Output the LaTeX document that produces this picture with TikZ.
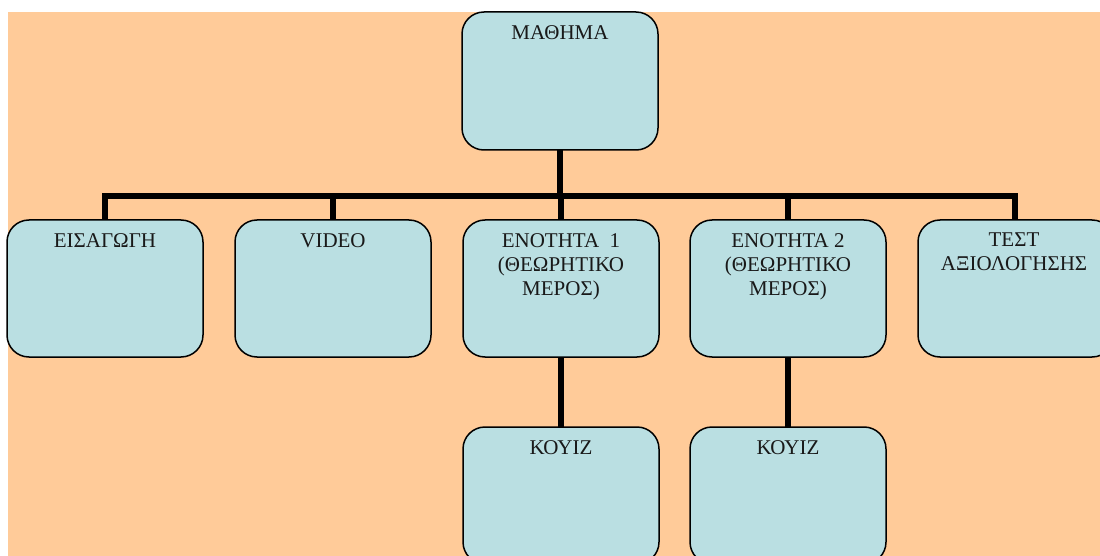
\documentclass[tikz,border=0pt]{standalone}
\usepackage{fontspec}
\setmainfont{Liberation Serif}
\definecolor{peach}{RGB}{255,203,153}
\definecolor{boxfill}{RGB}{186,223,226}
\tikzset{
  box/.style={draw=black, line width=1.5pt, fill=boxfill, rounded corners=22pt,
    minimum width=196pt, minimum height=137pt, inner sep=0pt, outer sep=0pt},
  txt/.style={anchor=north, inner sep=0pt, align=center,
    font=\fontsize{21}{24}\selectfont, text=black!90},
  conn/.style={line width=6pt, line join=miter, line cap=butt}
}
\begin{document}
\begin{tikzpicture}[x=1pt,y=-1pt]
\useasboundingbox (0,0) rectangle (1100,556);
\fill[white] (0,0) rectangle (1100,556);
\clip (0,0) rectangle (1100,556);
\fill[peach] (8,12) rectangle (1100,556);

% boxes
\node[box, minimum height=138pt] (math) at (560,81) {};
\node[box] (eis) at (105,288.5) {};
\node[box] (vid) at (333,288.5) {};
\node[box] (en1) at (561,288.5) {};
\node[box] (en2) at (788,288.5) {};
\node[box] (test) at (1016,288.5) {};
\node[box] (koy1) at (561,495.5) {};
\node[box] (koy2) at (788,495.5) {};

% texts
\node[txt] (tmath) at ([yshift=-13pt]math.north) {ΜΑΘΗΜΑ};
\node[txt] (teis) at ([yshift=-13pt]eis.north) {ΕΙΣΑΓΩΓΗ};
\node[txt] (tvid) at ([yshift=-13pt]vid.north) {VIDEO};
\node[txt] (ten1) at ([yshift=-13pt]en1.north) {ΕΝΟΤΗΤΑ~~1\\(ΘΕΩΡΗΤΙΚΟ\\ΜΕΡΟΣ)};
\node[txt] (ten2) at ([yshift=-13pt]en2.north) {ΕΝΟΤΗΤΑ 2\\(ΘΕΩΡΗΤΙΚΟ\\ΜΕΡΟΣ)};
\node[txt] (ttest) at ([xshift=-2pt,yshift=-13pt]test.north) {ΤΕΣΤ\\ΑΞΙΟΛΟΓΗΣΗΣ};
\node[txt] (tkoy1) at ([yshift=-13pt]koy1.north) {ΚΟΥΙΖ};
\node[txt] (tkoy2) at ([yshift=-13pt]koy2.north) {ΚΟΥΙΖ};

% connectors
\coordinate (bar) at (560,196);
\draw[conn] (math.south) -- (math.south |- bar);
\draw[conn] (eis.north) -- (eis.north |- bar) -| ([xshift=-1pt]test.north);
\draw[conn] (vid.north) -- (vid.north |- bar);
\draw[conn] (en1.north) -- (en1.north |- bar);
\draw[conn] (en2.north) -- (en2.north |- bar);
\draw[conn] (en1.south) -- (koy1.north);
\draw[conn] (en2.south) -- (koy2.north);
\end{tikzpicture}
\end{document}
